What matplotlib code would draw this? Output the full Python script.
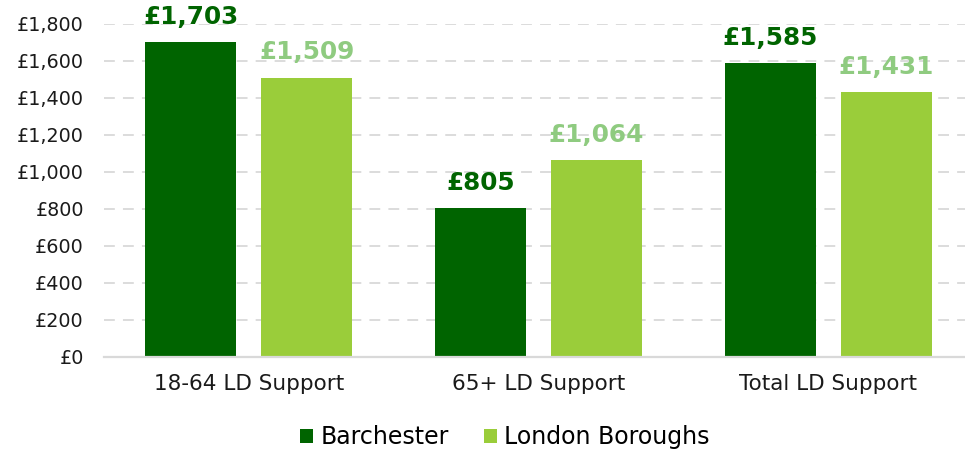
import matplotlib
matplotlib.use("Agg")
import matplotlib.pyplot as plt
import numpy as np

categories = ["18-64 LD Support", "65+ LD Support", "Total LD Support"]
barchester = [1703, 805, 1585]
london = [1509, 1064, 1431]
series_names = ["Barchester", "London Boroughs"]
yticks = [0, 200, 400, 600, 800, 1000, 1200, 1400, 1600, 1800]

dark = "#006400"
light = "#9ACD3A"
light_label = "#8FCB80"

plt.rcParams['font.family'] = ['DejaVu Sans']

W, H = 965, 453
fig = plt.figure(figsize=(W / 100, H / 100), dpi=100)
left = 104 / W
right = 973 / W
bottom = (H - 356.7) / H
top = (H - 23.7) / H
ax = fig.add_axes([left, bottom, right - left, top - bottom])

x = np.arange(len(categories))
bw = 0.314
off = 0.2
b1 = ax.bar(x - off, barchester, bw, color=dark, label=series_names[0], zorder=3)
b2 = ax.bar(x + off, london, bw, color=light, label=series_names[1], zorder=3)

for xi, v in zip(x - off, barchester):
    ax.annotate(f"£{v:,}", (xi, v), xytext=(0, 13), textcoords="offset points",
                ha="center", va="baseline", fontsize=17.8, fontweight="bold",
                color=dark, annotation_clip=False)
for xi, v in zip(x + off, london):
    ax.annotate(f"£{v:,}", (xi, v), xytext=(0, 13), textcoords="offset points",
                ha="center", va="baseline", fontsize=17.8, fontweight="bold",
                color=light_label, annotation_clip=False)

ax.set_xlim(-0.5, 2.5)
ax.set_ylim(0, 1800)
ax.set_yticks(yticks)
ax.set_yticklabels([f"£{t:,}" for t in yticks], fontsize=13.8, color="#1a1a1a")
ax.set_xticks(x)
ax.set_xticklabels(categories, fontsize=15.5, color="#1a1a1a")
ax.tick_params(axis="y", length=0, pad=14.5)
ax.tick_params(axis="x", length=0, pad=12.5)

ax.yaxis.grid(True, color="#d9d9d9", linestyle=(0, (6, 4.5)), linewidth=1.3, zorder=0)
ax.set_axisbelow(True)
for s in ["top", "right", "left"]:
    ax.spines[s].set_visible(False)
ax.spines["bottom"].set_color("#d9d9d9")
ax.spines["bottom"].set_linewidth(1.6)
ax.spines["bottom"].set_zorder(4)

leg = fig.legend(handles=[b1, b2], labels=series_names, loc="center",
                 bbox_to_anchor=(505 / W, 1 - 437 / H), ncol=2, frameon=False,
                 fontsize=17, handlelength=0.55, handleheight=0.55,
                 handletextpad=0.3, columnspacing=1.5, borderpad=0)

fig.savefig("out.png", dpi=100)
